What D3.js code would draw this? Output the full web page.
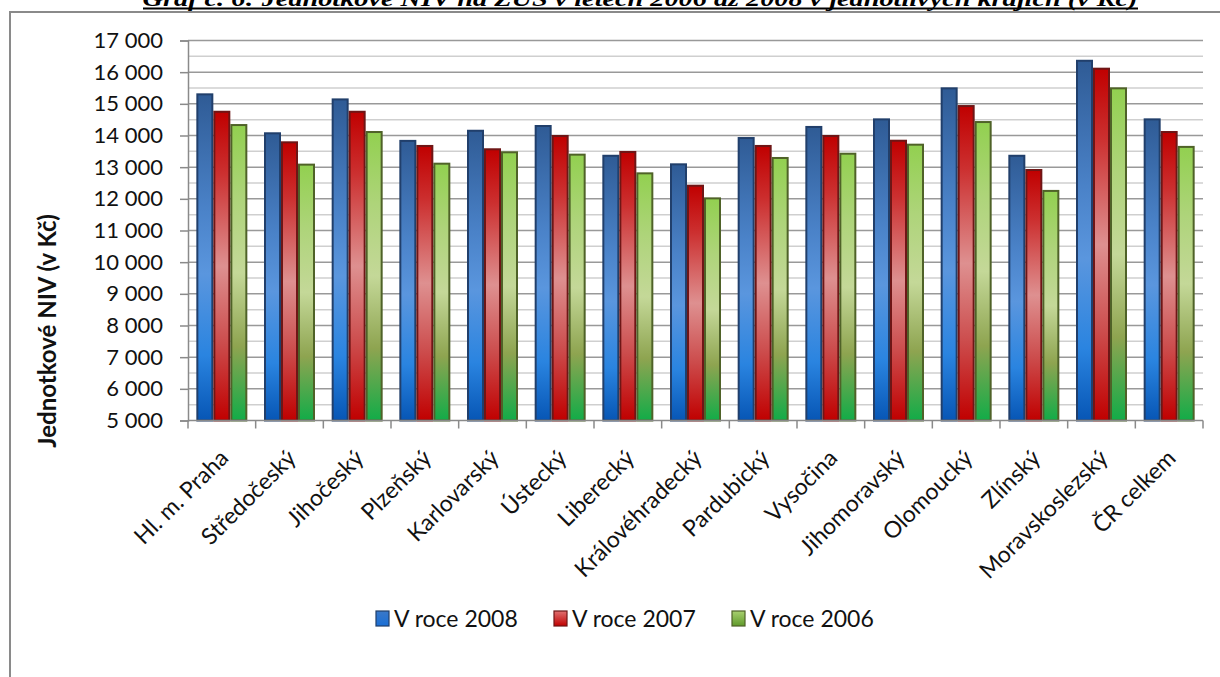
<!DOCTYPE html>
<html><head><meta charset="utf-8">
<script src="https://cdn.jsdelivr.net/npm/d3@7"></script>
<style>html,body{margin:0;padding:0;background:#fff;overflow:hidden}</style>
</head><body>
<svg id="c" width="1220" height="677"></svg>
<script>
const categories = ["Hl. m. Praha","Středočeský","Jihočeský","Plzeňský","Karlovarský","Ústecký","Liberecký","Královéhradecký","Pardubický","Vysočina","Jihomoravský","Olomoucký","Zlínský","Moravskoslezský","ČR celkem"];
const seriesNames = ["V roce 2008","V roce 2007","V roce 2006"];
const v2008 = [15300,14070,15140,13830,14150,14300,13360,13090,13920,14270,14510,15490,13360,16360,14510];
const v2007 = [14750,13785,14750,13670,13565,13985,13480,12415,13670,13985,13835,14930,12910,16110,14110];
const v2006 = [14330,13080,14110,13110,13470,13395,12805,12015,13290,13425,13710,14425,12250,15490,13640];
const yTicks = [5000,6000,7000,8000,9000,10000,11000,12000,13000,14000,15000,16000,17000];
const titleText = "Graf č. 6: Jednotkové NIV na ZÚS v letech 2006 až 2008 v jednotlivých krajích (v Kč)";
const yTitle = "Jednotkové NIV (v Kč)";

const series = [v2008, v2007, v2006];
const svg = d3.select("#c");
const FONT = "Lato, 'Open Sans', sans-serif";
const M = {l:188, r:1203, t:40.5, b:420.5};

const defs = svg.append("defs");
const grads = [
  {id:"gb", stops:[[0,"#2f5b95"],[0.35,"#4a82c8"],[0.55,"#5a96de"],[0.8,"#2a84e0"],[1,"#0756b5"]], stroke:"#213f6b", leg:["#3a78c8","#1a6fd6"]},
  {id:"gr", stops:[[0,"#c00000"],[0.2,"#cc3030"],[0.5,"#de9090"],[0.75,"#cc4c4c"],[1,"#c00000"]], stroke:"#6e1616", leg:["#e07070","#c00000"]},
  {id:"gg", stops:[[0,"#92d050"],[0.25,"#aed47a"],[0.5,"#c4d898"],[0.75,"#8ea450"],[1,"#12ac48"]], stroke:"#4f6228", leg:["#a8d070","#5f9a2a"]}
];
grads.forEach(g=>{
  const lg = defs.append("linearGradient").attr("id",g.id).attr("x1",0).attr("y1",0).attr("x2",0).attr("y2",1);
  g.stops.forEach(s=>lg.append("stop").attr("offset",s[0]).attr("stop-color",s[1]));
  const lg2 = defs.append("linearGradient").attr("id",g.id+"l").attr("x1",0).attr("y1",0).attr("x2",0).attr("y2",1);
  lg2.append("stop").attr("offset",0).attr("stop-color",g.leg[0]);
  lg2.append("stop").attr("offset",1).attr("stop-color",g.leg[1]);
});

// title (cut off at top, as in the source)
svg.append("text").attr("x",640).attr("y",6).attr("text-anchor","middle")
  .attr("font-family","'Liberation Serif', 'Times New Roman', serif").attr("font-weight","bold")
  .attr("font-style","italic").attr("font-size",22).attr("fill","#000")
  .attr("textLength",995).attr("lengthAdjust","spacingAndGlyphs").text(titleText);
svg.append("line").attr("x1",143).attr("x2",1138).attr("y1",8.5).attr("y2",8.5).attr("stroke","#000").attr("stroke-width",2);

// frame
svg.append("rect").attr("x",10).attr("y",12).attr("width",1300).attr("height",800)
  .attr("fill","none").attr("stroke","#8a8a8a").attr("stroke-width",2);

const x = d3.scaleBand().domain(categories).range([M.l,M.r]).paddingInner(0).paddingOuter(0);
const y = d3.scaleLinear().domain([5000,17000]).range([M.b,M.t]);
const xs = d3.scaleBand().domain([0,1,2]).range([0, 51]);
const groupOffset = (x.bandwidth()-51)/2;

// grid
const minor = d3.range(5500,17000,1000);
svg.append("g").selectAll("line").data(minor).join("line")
  .attr("x1",M.l).attr("x2",M.r).attr("y1",d=>y(d)).attr("y2",d=>y(d))
  .attr("stroke","#cfcfcf").attr("stroke-width",1.5);
svg.append("g").selectAll("line").data(yTicks.filter(d=>d>5000)).join("line")
  .attr("x1",M.l).attr("x2",M.r).attr("y1",d=>y(d)).attr("y2",d=>y(d))
  .attr("stroke","#999").attr("stroke-width",1.5);

// y axis
const fmt = v => d3.format(",")(v).replace(/,/g,"\u00a0");
const ya = svg.append("g").attr("transform",`translate(${M.l},0)`)
  .call(d3.axisLeft(y).tickValues(yTicks).tickFormat(fmt).tickSize(8).tickPadding(17));
ya.select(".domain").attr("stroke","#8a8a8a").attr("stroke-width",1.5);
ya.selectAll(".tick line").attr("stroke","#8a8a8a").attr("stroke-width",1.5);
ya.selectAll(".tick text").attr("font-family",FONT).attr("font-size",22).attr("fill","#111");

// bars
series.forEach((s,si)=>{
  svg.append("g").selectAll("rect").data(s).join("rect")
    .attr("x",(d,i)=>x(categories[i])+groupOffset+xs(si)+1)
    .attr("y",d=>y(d))
    .attr("width",xs.bandwidth()-2)
    .attr("height",d=>y(5000)-y(d))
    .attr("fill",`url(#${grads[si].id})`)
    .attr("stroke",grads[si].stroke).attr("stroke-width",2);
});

// x axis
const xa = svg.append("g").attr("transform",`translate(0,${M.b})`);
xa.append("line").attr("x1",M.l).attr("x2",M.r).attr("stroke","#8a8a8a").attr("stroke-width",1.5);
const bounds = categories.map(c=>x(c)).concat([M.r]);
xa.selectAll("line.t").data(bounds).join("line").attr("class","t")
  .attr("x1",d=>d).attr("x2",d=>d).attr("y1",0).attr("y2",8).attr("stroke","#8a8a8a").attr("stroke-width",1.5);
xa.selectAll("text").data(categories).join("text")
  .attr("transform",d=>`translate(${x(d)+x.bandwidth()/2+8},${39}) rotate(-45)`)
  .attr("text-anchor","end").attr("font-family",FONT).attr("font-size",23).attr("fill","#111")
  .text(d=>d);

// y title
svg.append("text").attr("transform",`translate(56,331) rotate(-90)`).attr("text-anchor","middle")
  .attr("font-family",FONT).attr("font-weight","bold").attr("font-size",24).attr("fill","#111").text(yTitle);

// legend
const legX = [376, 554, 732];
const lg = svg.append("g");
seriesNames.forEach((n,i)=>{
  lg.append("rect").attr("x",legX[i]).attr("y",611).attr("width",13).attr("height",15)
    .attr("fill",`url(#${grads[i].id}l)`).attr("stroke",grads[i].stroke).attr("stroke-width",1.2);
  lg.append("text").attr("x",legX[i]+18).attr("y",627).attr("font-family",FONT).attr("font-size",23)
    .attr("fill","#111").text(n);
});
</script>
</body></html>
